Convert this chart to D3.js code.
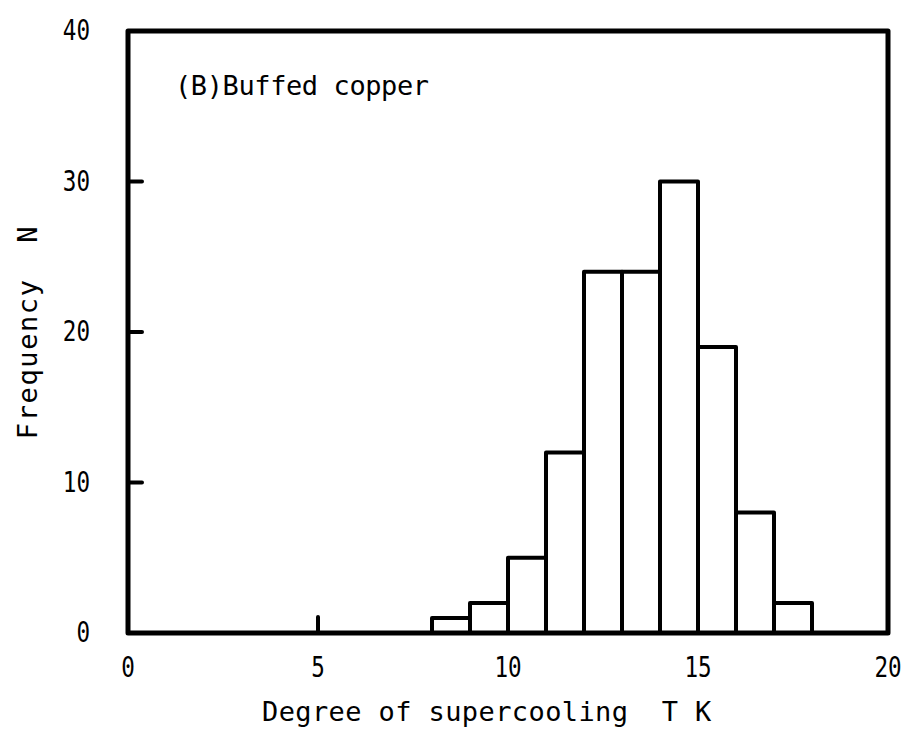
<!DOCTYPE html>
<html>
<head>
<meta charset="utf-8">
<script src="https://cdn.jsdelivr.net/npm/d3@7"></script>
<style>
body { margin: 0; background: #fff; }
text { font-family: "DejaVu Sans Mono", monospace; fill: #000; }
</style>
</head>
<body>
<div id="chart"></div>
<script>
// histogram bins (lower edge, upper edge) and counts
var binStart = [8, 9, 10, 11, 12, 13, 14, 15, 16, 17];
var binEnd = [9, 10, 11, 12, 13, 14, 15, 16, 17, 18];
var counts = [1, 2, 5, 12, 24, 24, 30, 19, 8, 2];
var xTicks = [0, 5, 10, 15, 20];
var yTicks = [0, 10, 20, 30, 40];

var W = 910, H = 735;
var margin = {left: 128, right: 22, top: 31, bottom: 102};

var svg = d3.select("#chart").append("svg")
	.attr("width", W)
	.attr("height", H);

var x = d3.scaleLinear().domain([0, 20]).range([margin.left, W - margin.right]);
var y = d3.scaleLinear().domain([0, 40]).range([H - margin.bottom, margin.top]);

var bins = binStart.map((s, i) => ({x0: s, x1: binEnd[i], n: counts[i]}));

// bars
svg.selectAll(".bar")
	.data(bins)
	.enter().append("rect")
	.attr("class", "bar")
	.attr("x", d => x(d.x0))
	.attr("y", d => y(d.n))
	.attr("width", d => x(d.x1) - x(d.x0))
	.attr("height", d => y(0) - y(d.n))
	.attr("fill", "none")
	.attr("stroke", "#000")
	.attr("stroke-width", 4)
	.attr("stroke-linejoin", "round");

// inward ticks
svg.selectAll(".ytick")
	.data(yTicks.filter(v => v > 0 && v < 40))
	.enter().append("line")
	.attr("x1", x(0)).attr("x2", x(0) + 14)
	.attr("y1", d => y(d)).attr("y2", d => y(d))
	.attr("stroke", "#000").attr("stroke-width", 4).attr("stroke-linecap", "round");

svg.selectAll(".xtick")
	.data(xTicks.filter(v => v > 0 && v < 20))
	.enter().append("line")
	.attr("x1", d => x(d)).attr("x2", d => x(d))
	.attr("y1", y(0)).attr("y2", y(0) - 16)
	.attr("stroke", "#000").attr("stroke-width", 4).attr("stroke-linecap", "round");

// frame
svg.append("rect")
	.attr("x", x(0)).attr("y", y(40))
	.attr("width", x(20) - x(0)).attr("height", y(0) - y(40))
	.attr("fill", "none").attr("stroke", "#000").attr("stroke-width", 5)
	.attr("stroke-linejoin", "round");

// tick labels (narrow digits)
var sx = 0.78;
svg.selectAll(".xlab")
	.data(xTicks)
	.enter().append("text")
	.attr("transform", d => "translate(" + x(d) + "," + (y(0) + 44) + ") scale(" + sx + ",1)")
	.attr("text-anchor", "middle")
	.style("font-size", "29px")
	.text(d => d);

svg.selectAll(".ylab")
	.data(yTicks)
	.enter().append("text")
	.attr("transform", d => "translate(" + (x(0) - 38) + "," + (y(d) + 9) + ") scale(" + sx + ",1)")
	.attr("text-anchor", "end")
	.style("font-size", "29px")
	.text(d => d);

// axis titles
svg.append("text")
	.attr("x", 262)
	.attr("y", 721)
	.style("font-size", "27px")
	.style("letter-spacing", "0.4px")
	.style("white-space", "pre")
	.text("Degree of supercooling  T K");

svg.append("text")
	.attr("transform", "translate(37,332) rotate(-90)")
	.attr("text-anchor", "middle")
	.style("font-size", "27px")
	.style("letter-spacing", "1.6px")
	.style("white-space", "pre")
	.text("Frequency  N");

svg.append("text")
	.attr("x", 175)
	.attr("y", 95)
	.style("font-size", "27px")
	.style("letter-spacing", "-0.4px")
	.text("(B)Buffed copper");
</script>
</body>
</html>
